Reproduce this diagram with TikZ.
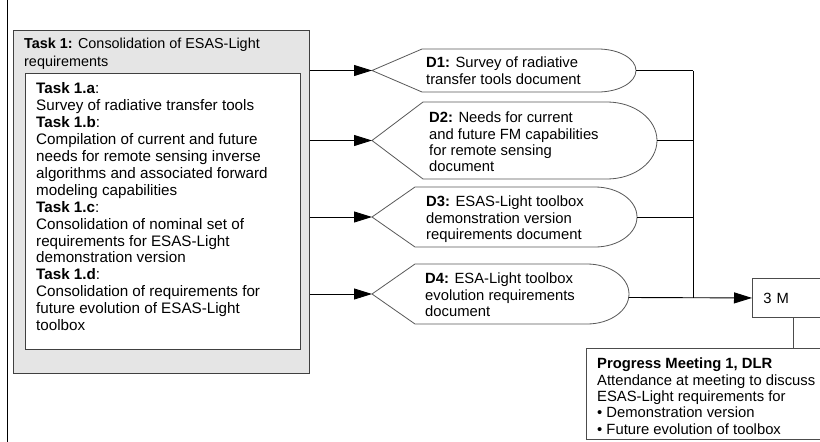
\documentclass[tikz,border=0pt]{standalone}
\usepackage{fontspec}
\setmainfont{Liberation Sans}
\usetikzlibrary{arrows.meta}
\begin{document}
\begin{tikzpicture}[x=1pt,y=-1pt,
  txt/.style={inner sep=0pt, align=left, anchor=north west, font=\fontsize{14.8}{16.9}\selectfont},
  dtxt/.style={txt, font=\fontsize{14.8}{16.4}\selectfont},
  frame/.style={draw=black!75, line width=1.1pt, inner sep=0pt, anchor=north west},
  docshape/.style={draw=black!65, line width=0.8pt, fill=white},
  conn/.style={draw=black, line width=0.9pt},
  arr/.style={conn, -{Triangle[length=18pt,width=11pt]}}]
\useasboundingbox (0,0) rectangle (820,442);
\clip (0,0) rectangle (820,442);
\fill[white] (0,0) rectangle (820,442);
% left margin line
\draw[line width=1pt] (7,0) -- (7,442);
% task boxes
\node[frame, fill=black!10, minimum width=296pt, minimum height=343pt] (task) at (13,30) {};
\node[txt, font=\fontsize{14.4}{17.6}\selectfont] (tasktitle) at (24,38.3) {\textbf{Task 1:} Consolidation of ESAS-Light\\requirements};
\node[frame, fill=white, minimum width=275pt, minimum height=276pt] (inner) at (25,73) {};
\node[txt, font=\fontsize{15.2}{16.9}\selectfont] (subtasks) at (36,82.7) {\textbf{Task 1.a}:\\Survey of radiative transfer tools\\\textbf{Task 1.b}:\\Compilation of current and future\\needs for remote sensing inverse\\algorithms and associated forward\\modeling capabilities\\\textbf{Task 1.c}:\\Consolidation of nominal set of\\requirements for ESAS-Light\\demonstration version\\\textbf{Task 1.d}:\\Consolidation of requirements for\\future evolution of ESAS-Light\\toolbox};
% document shapes
\coordinate (t1) at (372,70.5);
\coordinate (t2) at (372,140.5);
\coordinate (t3) at (372,217);
\coordinate (t4) at (372,294);
\draw[docshape] (t1) -- (422,49) -- (598,49) arc[start angle=90, end angle=-90, x radius=38pt, y radius=21.5pt] -- (422,92) -- cycle;
\draw[docshape] (t2) -- (423,102) -- (607,102) arc[start angle=90, end angle=-90, x radius=50pt, y radius=38.5pt] -- (423,179) -- cycle;
\draw[docshape] (t3) -- (415,187) -- (595,187) arc[start angle=90, end angle=-90, x radius=42pt, y radius=30pt] -- (415,247) -- cycle;
\draw[docshape] (t4) -- (415,264) -- (587,264) arc[start angle=90, end angle=-90, x radius=42pt, y radius=30pt] -- (415,324) -- cycle;
\coordinate (e1) at (636,70.5);
\coordinate (e2) at (657,140.5);
\coordinate (e3) at (637,217);
\coordinate (e4) at (628.7,297.5);
\node[dtxt] (D1) at (426,56.7) {\textbf{D1:} Survey of radiative\\transfer tools document};
\node[dtxt] (D2) at (429,111.7) {\textbf{D2:} Needs for current\\and future FM capabilities\\for remote sensing\\document};
\node[dtxt] (D3) at (426,195.7) {\textbf{D3:} ESAS-Light toolbox\\demonstration version\\requirements document};
\node[dtxt] (D4) at (425,272.7) {\textbf{D4:} ESA-Light toolbox\\evolution requirements\\document};
% arrows from task box
\draw[arr] (task.east |- t1) -- (t1);
\draw[arr] (task.east |- t2) -- (t2);
\draw[arr] (task.east |- t3) -- (t3);
\draw[arr] (task.east |- t4) -- (t4);
% milestone
\node[frame, draw=black!70, line width=0.9pt, fill=white, minimum height=39pt, text width=70pt, inner xsep=11pt, align=left, font=\fontsize{14.8}{16.4}\selectfont] (m3) at (752,278) {3 M};
\coordinate (j) at (693,70.5);
\draw[conn] (e1) -- (j);
\draw[conn] (e2) -- (e2 -| j);
\draw[conn] (e3) -- (e3 -| j);
\draw[conn] (j) -- (j |- m3.west);
\draw[arr] (e4) -- (m3.west);
% progress meeting
\node[frame, draw=black!70, line width=0.9pt, fill=white, minimum width=260pt, minimum height=91pt] (pm) at (586,348) {};
\draw[conn, draw=black!70] (m3.south -| 793,0) -- (pm.north -| 793,0);
\node[dtxt] (pmtext) at (597,357.7) {\textbf{Progress Meeting 1, DLR}\\Attendance at meeting to discuss\\ESAS-Light requirements for\\\textbullet\ Demonstration version\\\textbullet\ Future evolution of toolbox};
\end{tikzpicture}
\end{document}
